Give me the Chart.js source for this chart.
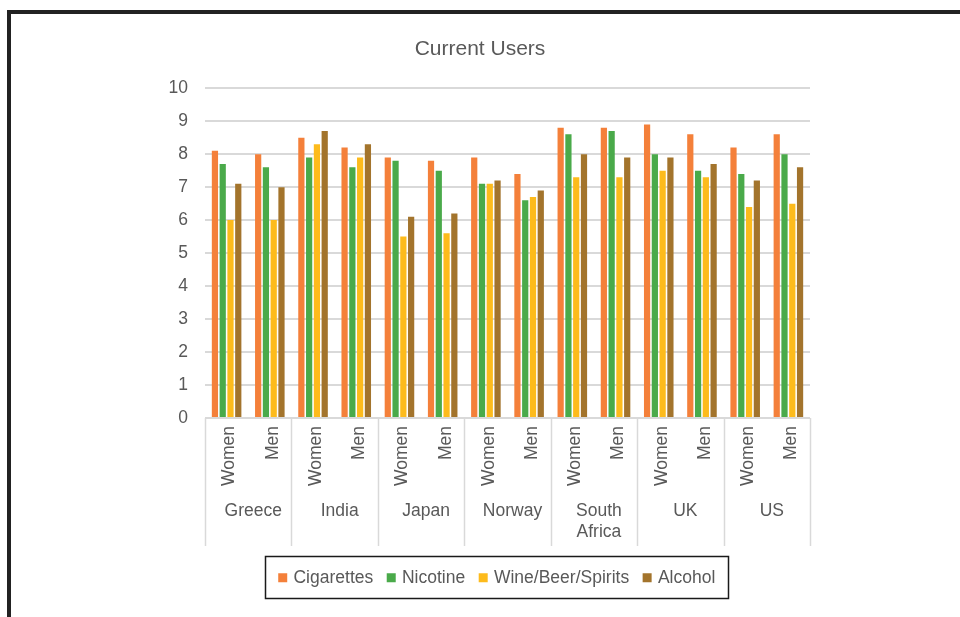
<!DOCTYPE html>
<html>
<head>
<meta charset="utf-8">
<title>Current Users</title>
<script src="https://cdn.jsdelivr.net/npm/chart.js@4/dist/chart.umd.min.js"></script>
<style>
  html, body { margin: 0; padding: 0; background: #ffffff; }
  #wrap { position: relative; width: 960px; height: 617px; overflow: hidden; }
  #frame {
    position: absolute; left: 7px; top: 10px; width: 1000px; height: 700px;
    border-top: 4px solid #222222; border-left: 4px solid #222222;
    pointer-events: none;
  }
  canvas { position: absolute; left: 0; top: 0; }
</style>
</head>
<body>
<div id="wrap">
  <canvas id="chart" width="960" height="617"></canvas>
  <div id="frame"></div>
</div>
<script>
// Countries (outer axis level) and the two groups shown for each (inner level)
const countries = ['Greece', 'India', 'Japan', 'Norway', ['South', 'Africa'], 'UK', 'US'];
const groups = ['Women', 'Men'];

// One inner category per country/group pair
const categories = countries.flatMap(() => groups);

// Scores per category, in the order Greece W/M, India W/M, ... US W/M
const cigarettes = [8.1, 8.0, 8.5, 8.2, 7.9, 7.8, 7.9, 7.4, 8.8, 8.8, 8.9, 8.6, 8.2, 8.6];
const nicotine   = [7.7, 7.6, 7.9, 7.6, 7.8, 7.5, 7.1, 6.6, 8.6, 8.7, 8.0, 7.5, 7.4, 8.0];
const wine       = [6.0, 6.0, 8.3, 7.9, 5.5, 5.6, 7.1, 6.7, 7.3, 7.3, 7.5, 7.3, 6.4, 6.5];
const alcohol    = [7.1, 7.0, 8.7, 8.3, 6.1, 6.2, 7.2, 6.9, 8.0, 7.9, 7.9, 7.7, 7.2, 7.6];

const yTicks = [0, 1, 2, 3, 4, 5, 6, 7, 8, 9, 10];

const FONT = "'Liberation Sans', Arial, sans-serif";
const TEXT = '#595959';
const GRID = '#d9d9d9';

// Vertical separators between country groups, running under the plot area
const groupSeparators = {
  id: 'groupSeparators',
  afterDraw(chart) {
    const x = chart.scales.x;
    const outer = chart.scales.country;
    const ctx = chart.ctx;
    ctx.save();
    ctx.strokeStyle = GRID;
    ctx.lineWidth = 1.5;
    for (let i = 0; i <= countries.length; i++) {
      const px = Math.round(x.getPixelForValue(i * groups.length - 0.5)) + 0.5;
      ctx.beginPath();
      ctx.moveTo(px, chart.chartArea.bottom);
      ctx.lineTo(px, outer.bottom - 7);
      ctx.stroke();
    }
    ctx.restore();
  }
};

// Nudge the legend a little right of the canvas centre
const legendShift = {
  id: 'legendShift',
  afterLayout(chart) {
    if (!chart.legend) return;
    chart.legend.left += 18;
    chart.legend.right += 18;
  }
};

// Thin dark box around the legend items
const legendBox = {
  id: 'legendBox',
  afterDraw(chart) {
    const boxes = chart.legend && chart.legend.legendHitBoxes;
    if (!boxes || !boxes.length) return;
    const left = Math.min(...boxes.map(b => b.left)) - 16;
    const right = Math.max(...boxes.map(b => b.left + b.width)) + 12;
    const top = Math.min(...boxes.map(b => b.top)) - 13;
    const bottom = Math.max(...boxes.map(b => b.top + b.height)) + 11;
    const ctx = chart.ctx;
    ctx.save();
    ctx.strokeStyle = '#1a1a1a';
    ctx.lineWidth = 1.5;
    ctx.strokeRect(Math.round(left) + 0.5, Math.round(top) + 0.5, Math.round(right - left), Math.round(bottom - top));
    ctx.restore();
  }
};

const mkSet = (label, data, color) => ({
  label, data,
  backgroundColor: color,
  borderWidth: 0,
  categoryPercentage: 0.72,
  barPercentage: 0.8
});

new Chart(document.getElementById('chart'), {
  type: 'bar',
  data: {
    labels: categories,
    datasets: [
      mkSet('Cigarettes', cigarettes, '#f4803a'),
      mkSet('Nicotine', nicotine, '#4aaa4a'),
      mkSet('Wine/Beer/Spirits', wine, '#fdbb1c'),
      mkSet('Alcohol', alcohol, '#a3742c')
    ]
  },
  options: {
    responsive: false,
    animation: false,
    devicePixelRatio: 1,
    layout: { padding: { left: 150, right: 150, top: 0, bottom: 20.5 } },
    plugins: {
      title: {
        display: true,
        text: 'Current Users',
        color: TEXT,
        font: { family: FONT, size: 21, weight: 'normal' },
        padding: { top: 37, bottom: 26 }
      },
      legend: {
        position: 'bottom',
        labels: {
          color: TEXT,
          font: { family: FONT, size: 17.5 },
          usePointStyle: true,
          pointStyle: 'rect',
          boxWidth: 4,
          boxHeight: 9,
          padding: 16
        }
      },
      tooltip: { enabled: false }
    },
    scales: {
      x: {
        type: 'category',
        position: 'bottom',
        weight: 0,
        offset: true,
        grid: { display: false, drawTicks: false },
        border: { display: false },
        ticks: {
          color: TEXT,
          font: { family: FONT, size: 17.5 },
          minRotation: 90,
          maxRotation: 90,
          padding: 8,
          labelOffset: 3,
          autoSkip: false
        },
        afterFit(scale) { scale.height = 78; }
      },
      country: {
        type: 'category',
        position: 'bottom',
        weight: 1,
        labels: countries,
        offset: true,
        grid: { display: false, drawTicks: false },
        border: { display: false },
        ticks: {
          color: TEXT,
          font: { family: FONT, size: 17.5 },
          maxRotation: 0,
          minRotation: 0,
          padding: 5,
          labelOffset: 5,
          autoSkip: false
        },
        afterFit(scale) { scale.height = 57; }
      },
      y: {
        min: 0,
        max: 10,
        afterBuildTicks(scale) { scale.ticks = yTicks.map(v => ({ value: v })); },
        grid: { color: GRID, lineWidth: 2, drawTicks: false },
        border: { display: false },
        ticks: {
          color: TEXT,
          font: { family: FONT, size: 17.5 },
          padding: 17
        },
        afterFit(scale) { scale.width = 55; }
      }
    }
  },
  plugins: [groupSeparators, legendShift, legendBox]
});
</script>
</body>
</html>
